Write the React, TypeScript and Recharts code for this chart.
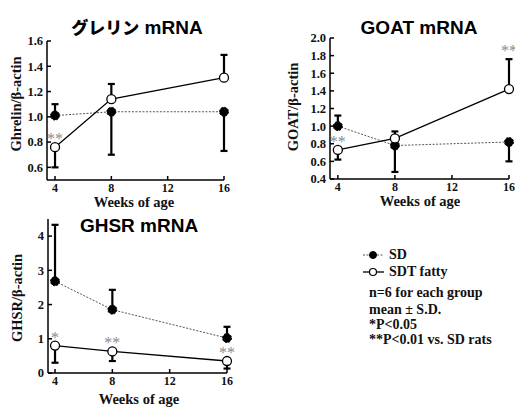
import React from "react";
import {
  LineChart,
  Line,
  XAxis,
  YAxis,
  ErrorBar,
  ReferenceDot,
} from "recharts";

// weeks of age
const weeks = [4, 8, 16];

// Ghrelin / beta-actin
const ghrelinSD = [1.01, 1.04, 1.04];
const ghrelinSDErr = [[0, 0.09], [0.34, 0], [0.31, 0]];
const ghrelinSDT = [0.76, 1.14, 1.31];
const ghrelinSDTErr = [[0.16, 0], [0, 0.12], [0, 0.18]];
const ghrelinSig = ["**", "", ""];

// GOAT / beta-actin
const goatSD = [1.0, 0.78, 0.82];
const goatSDErr = [[0, 0.12], [0.3, 0], [0.22, 0]];
const goatSDT = [0.73, 0.86, 1.42];
const goatSDTErr = [[0.11, 0], [0, 0.08], [0, 0.34]];
const goatSig = ["**", "", "**"];

// GHSR / beta-actin
const ghsrSD = [2.68, 1.85, 1.02];
const ghsrSDErr = [[0, 1.65], [0, 0.58], [0, 0.33]];
const ghsrSDT = [0.8, 0.63, 0.35];
const ghsrSDTErr = [[0.5, 0], [0.28, 0], [0.22, 0]];
const ghsrSig = ["*", "**", "**"];

const xTicks = [4, 8, 12, 16];
const ghrelinTicks = [0.6, 0.8, 1.0, 1.2, 1.4, 1.6];
const goatTicks = [0.4, 0.6, 0.8, 1.0, 1.2, 1.4, 1.6, 1.8, 2.0];
const ghsrTicks = [0, 1, 2, 3, 4];

const SERIF = "'Liberation Serif', 'DejaVu Serif', Times, serif";
const SANS = "'Liberation Sans', Arial, 'Noto Sans CJK JP', sans-serif";

function rows(sd: number[], sdErr: number[][], sdt: number[], sdtErr: number[][]) {
  return weeks.map((w, i) => ({
    week: w,
    sd: sd[i],
    sdErr: sdErr[i],
    sdt: sdt[i],
    sdtErr: sdtErr[i],
  }));
}

const YTick = (props: any) => {
  const { x, y, payload, decimals } = props;
  return (
    <g>
      <line x1={x} x2={x + 4} y1={y} y2={y} stroke="#000" strokeWidth={1.5} />
      <text
        x={x - 4}
        y={y}
        dy="0.35em"
        textAnchor="end"
        fontFamily={SERIF}
        fontWeight="bold"
        fontSize={12.5}
        fill="#111"
      >
        {Number(payload.value).toFixed(decimals)}
      </text>
    </g>
  );
};

const XTick = (props: any) => {
  const { x, y, payload } = props;
  return (
    <g>
      <line x1={x} x2={x} y1={y} y2={y - 4} stroke="#000" strokeWidth={1.5} />
      <text
        x={x}
        y={y + 7.5}
        dy="0.35em"
        textAnchor="middle"
        fontFamily={SERIF}
        fontWeight="bold"
        fontSize={12}
        fill="#111"
      >
        {payload.value}
      </text>
    </g>
  );
};

interface PanelProps {
  width: number;
  height: number;
  margin: { top: number; right: number; left: number; bottom: number };
  yWidth: number;
  xHeight: number;
  xDomain: number[];
  yDomain: number[];
  yTicks: number[];
  decimals: number;
  data: any[];
  sig: string[];
}

function Panel(p: PanelProps) {
  return (
    <LineChart width={p.width} height={p.height} data={p.data} margin={p.margin}>
      <XAxis
        dataKey="week"
        type="number"
        domain={p.xDomain}
        ticks={xTicks}
        interval={0}
        height={p.xHeight}
        tickSize={0}
        tickMargin={0}
        tickLine={false}
        axisLine={{ stroke: "#000", strokeWidth: 1.5 }}
        tick={(t: any) => <XTick {...t} />}
      />
      <YAxis
        type="number"
        domain={p.yDomain}
        ticks={p.yTicks}
        interval={0}
        width={p.yWidth}
        tickSize={0}
        tickMargin={0}
        tickLine={false}
        axisLine={{ stroke: "#000", strokeWidth: 1.5 }}
        tick={(t: any) => <YTick {...t} decimals={p.decimals} />}
      />
      <Line
        dataKey="sd"
        stroke="#555"
        strokeWidth={1}
        strokeDasharray="2 1.5"
        dot={{ r: 4.5, fill: "#000", stroke: "#000", strokeWidth: 1 }}
        activeDot={false}
        isAnimationActive={false}
      >
        <ErrorBar dataKey="sdErr" direction="y" width={3.5} stroke="#000" strokeWidth={2.2} />
      </Line>
      <Line
        dataKey="sdt"
        stroke="#000"
        strokeWidth={1.3}
        dot={{ r: 4.5, fill: "#fff", stroke: "#000", strokeWidth: 1.3 }}
        activeDot={false}
        isAnimationActive={false}
      >
        <ErrorBar dataKey="sdtErr" direction="y" width={3.5} stroke="#000" strokeWidth={2.2} />
      </Line>
      {p.data.map((d, i) =>
        p.sig[i] ? (
          <ReferenceDot
            key={i}
            x={d.week}
            y={d.sdt + d.sdtErr[1]}
            r={0}
            ifOverflow="visible"
            shape={(s: any) => (
              <text
                x={s.cx}
                y={s.cy - 3}
                textAnchor="middle"
                fontFamily={SERIF}
                fontSize={16}
                fill="#8a8a8a"
              >
                {p.sig[i]}
              </text>
            )}
          />
        ) : null
      )}
    </LineChart>
  );
}

const abs = (left: number, top: number, extra: React.CSSProperties = {}): React.CSSProperties => ({
  position: "absolute",
  left,
  top,
  whiteSpace: "nowrap",
  ...extra,
});

const Title = ({ x, y, children }: { x: number; y: number; children: React.ReactNode }) => (
  <div
    style={abs(x, y, {
      transform: "translate(-50%, -50%)",
      fontFamily: SANS,
      fontWeight: "bold",
      fontSize: 19,
      lineHeight: 1,
      color: "#000",
    })}
  >
    {children}
  </div>
);

const YLabel = ({ x, y, text }: { x: number; y: number; text: string }) => (
  <div
    style={abs(x, y, {
      transform: "translate(-50%, -50%) rotate(-90deg)",
      fontFamily: SERIF,
      fontWeight: "bold",
      fontSize: 14.5,
      lineHeight: 1,
      color: "#111",
    })}
  >
    {text}
  </div>
);

const XLabel = ({ x, y }: { x: number; y: number }) => (
  <div
    style={abs(x, y, {
      transform: "translate(-50%, -50%)",
      fontFamily: SERIF,
      fontWeight: "bold",
      fontSize: 14.5,
      lineHeight: 1,
      color: "#111",
    })}
  >
    Weeks of age
  </div>
);

const noteStyle: React.CSSProperties = {
  fontFamily: SERIF,
  fontWeight: "bold",
  fontSize: 14,
  lineHeight: 1,
  color: "#111",
  transform: "translateY(-50%)",
};

export default function App() {
  const ghrelinData = rows(ghrelinSD, ghrelinSDErr, ghrelinSDT, ghrelinSDTErr);
  const goatData = rows(goatSD, goatSDErr, goatSDT, goatSDTErr);
  const ghsrData = rows(ghsrSD, ghsrSDErr, ghsrSDT, ghsrSDTErr);

  return (
    <div style={{ position: "absolute", left: 0, top: 0, width: 515, height: 407, background: "#fff", overflow: "hidden" }}>
      <div style={abs(0, 0)}>
        <Panel
          width={260}
          height={200}
          margin={{ top: 41, right: 36, left: 0, bottom: 0 }}
          yWidth={47}
          xHeight={20}
          xDomain={[3.43, 16]}
          yDomain={[0.5, 1.6]}
          yTicks={ghrelinTicks}
          decimals={1}
          data={ghrelinData}
          sig={ghrelinSig}
        />
      </div>
      <div style={abs(260, 0)}>
        <Panel
          width={255}
          height={200}
          margin={{ top: 38, right: 6, left: 0, bottom: 0 }}
          yWidth={70}
          xHeight={21}
          xDomain={[3.45, 16]}
          yDomain={[0.4, 2.0]}
          yTicks={goatTicks}
          decimals={1}
          data={goatData}
          sig={goatSig}
        />
      </div>
      <div style={abs(0, 200)}>
        <Panel
          width={260}
          height={207}
          margin={{ top: 19, right: 33, left: 0, bottom: 0 }}
          yWidth={48}
          xHeight={34}
          xDomain={[3.51, 16]}
          yDomain={[0, 4.5]}
          yTicks={ghsrTicks}
          decimals={0}
          data={ghsrData}
          sig={ghsrSig}
        />
      </div>

      <Title x={137} y={27}>
        <span style={{ fontSize: 17, fontFamily: "'Noto Sans CJK JP', sans-serif", fontWeight: 900 }}>グレリン</span> mRNA
      </Title>
      <Title x={419} y={27}>GOAT mRNA</Title>
      <Title x={139} y={225}>GHSR mRNA</Title>

      <YLabel x={16} y={104} text="Ghrelin/β-actin" />
      <YLabel x={293} y={107} text="GOAT/β-actin" />
      <YLabel x={17} y={298} text="GHSR/β-actin" />

      <XLabel x={134} y={201.5} />
      <XLabel x={420} y={200.5} />
      <XLabel x={139} y={399} />

      <svg style={abs(355, 245)} width={40} height={40}>
        <line x1={8} x2={29} y1={10} y2={10} stroke="#555" strokeWidth={1} strokeDasharray="2 1.5" />
        <circle cx={18} cy={10} r={3.5} fill="#000" stroke="#000" />
        <line x1={8} x2={29} y1={27} y2={27} stroke="#000" strokeWidth={1.3} />
        <circle cx={18} cy={27} r={3.5} fill="#fff" stroke="#000" strokeWidth={1.2} />
      </svg>
      <div style={abs(389, 255, noteStyle)}>SD</div>
      <div style={abs(389, 272, noteStyle)}>SDT fatty</div>

      <div style={abs(369, 293, noteStyle)}>n=6 for each group</div>
      <div style={abs(369, 310, noteStyle)}>mean ± S.D.</div>
      <div style={abs(369, 325, noteStyle)}>*P&lt;0.05</div>
      <div style={abs(369, 340, noteStyle)}>**P&lt;0.01 vs. SD rats</div>
    </div>
  );
}
